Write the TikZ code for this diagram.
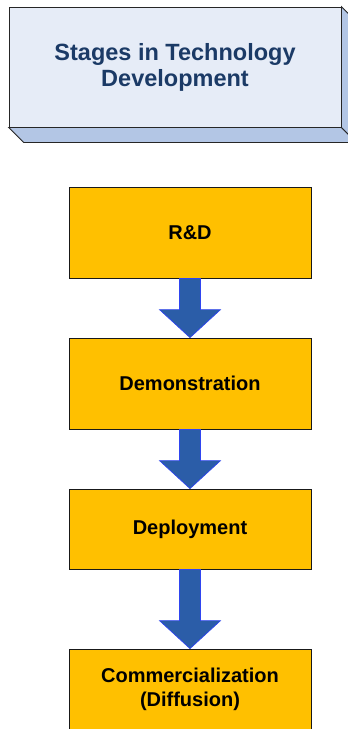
\documentclass[tikz,border=0pt]{standalone}
\usepackage{fontspec}
\setmainfont{Liberation Sans}
\usetikzlibrary{calc,shadows}
\definecolor{titlefront}{HTML}{E6ECF7}
\definecolor{titleside}{HTML}{B3C6E5}
\definecolor{titletext}{HTML}{1B3A66}
\definecolor{stagefill}{HTML}{FFC000}
\definecolor{arrowfill}{HTML}{2B5DA8}
\definecolor{arrowline}{HTML}{2F45F0}
\tikzset{
  titlebox/.style={draw=black!85, line width=0.8pt, fill=titlefront, minimum width=332pt, minimum height=120pt,
    align=center, font=\fontsize{23.5}{26}\selectfont\bfseries, text=titletext, inner sep=0pt},
  titleside/.style={draw=black!85, line width=0.8pt, fill=titleside, line join=miter},
  stagebox/.style={draw=black!90, line width=0.8pt, fill=stagefill, minimum width=242pt, align=center,
    font=\fontsize{20}{24}\selectfont\bfseries, text=black, inner sep=0pt,
    drop shadow={shadow xshift=1.2pt, shadow yshift=-1.2pt, fill=black!35, opacity=0.6}},
  bigarrow/.style={draw=arrowline, line width=0.7pt, fill=arrowfill, line join=miter}
}
\newcommand\stagearrow[2]{%
  \draw[bigarrow] ($(#1.south)+(-10.5,0)$) -- ($(#2.north)+(-10.5,-28)$) -- ($(#2.north)+(-30.5,-28)$)
    -- (#2.north) -- ($(#2.north)+(30.5,-28)$) -- ($(#2.north)+(10.5,-28)$) -- ($(#1.south)+(10.5,0)$) -- cycle;}
\begin{document}
\begin{tikzpicture}[x=1pt,y=-1pt]
\useasboundingbox (0,0) rectangle (348,729);
\node[titlebox] (title) at (175,67) {Stages in Technology\\Development};
\draw[titleside] (title.south west) -- ++(15,15) -- ($(title.south east)+(15,15)$) -- (title.south east) -- cycle;
\draw[titleside] (title.north east) -- ++(15,15) -- ($(title.south east)+(15,15)$) -- (title.south east) -- cycle;
\node[stagebox, minimum height=91pt] (rd) at (190,232.5) {R\&D};
\node[stagebox, minimum height=91pt] (demo) at (190,383.5) {Demonstration};
\node[stagebox, minimum height=80pt] (deploy) at (190,529) {Deployment};
\node[stagebox, minimum height=80pt] (comm) at (190,689) {Commercialization\\(Diffusion)};
\stagearrow{rd}{demo}
\stagearrow{demo}{deploy}
\stagearrow{deploy}{comm}
\end{tikzpicture}
\end{document}
